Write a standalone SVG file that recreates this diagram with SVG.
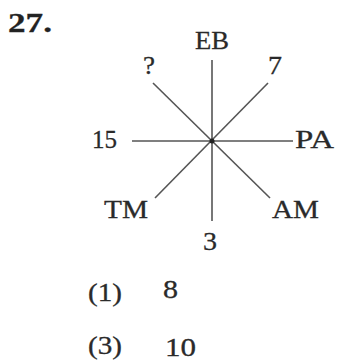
<svg xmlns="http://www.w3.org/2000/svg" width="341" height="364" viewBox="0 0 341 364">
<style>
.t{font-family:"Liberation Serif","Times New Roman",serif;font-size:26px;fill:#2a2a2a;stroke:#2a2a2a;stroke-width:0.3}
.b{font-weight:bold;font-size:28px;fill:#222}
.l{stroke:#555;stroke-width:1.6;fill:none}
</style>
<rect width="341" height="364" fill="#fff"/>
<g id="connectors">
<line class="l" x1="212" y1="60" x2="212" y2="221"/>
<line class="l" x1="132" y1="141" x2="293" y2="141"/>
<line class="l" x1="153" y1="83" x2="270" y2="198"/>
<line class="l" x1="268" y1="83" x2="155" y2="198"/>
<circle cx="212" cy="141" r="2.5" fill="#222"/>
</g>
<g id="title"><text class="t b" x="8" y="32" textLength="44" lengthAdjust="spacingAndGlyphs">27.</text></g>
<g id="EB"><text class="t" x="195" y="49" textLength="34" lengthAdjust="spacingAndGlyphs">EB</text></g>
<g id="q"><text class="t" x="143" y="74" textLength="12" lengthAdjust="spacingAndGlyphs">?</text></g>
<g id="n7"><text class="t" x="268" y="74" textLength="14" lengthAdjust="spacingAndGlyphs">7</text></g>
<g id="n15"><text class="t" x="92" y="148" textLength="25" lengthAdjust="spacingAndGlyphs">15</text></g>
<g id="PA"><text class="t" x="295" y="148" textLength="39" lengthAdjust="spacingAndGlyphs">PA</text></g>
<g id="TM"><text class="t" x="104" y="218" textLength="44" lengthAdjust="spacingAndGlyphs">TM</text></g>
<g id="AM"><text class="t" x="272" y="218" textLength="47" lengthAdjust="spacingAndGlyphs">AM</text></g>
<g id="n3"><text class="t" x="203" y="250" textLength="14" lengthAdjust="spacingAndGlyphs">3</text></g>
<g id="opt1"><text class="t" x="88" y="301" textLength="34" lengthAdjust="spacingAndGlyphs">(1)</text><text class="t" x="163" y="298" textLength="15" lengthAdjust="spacingAndGlyphs">8</text></g>
<g id="opt3"><text class="t" x="88" y="354" textLength="34" lengthAdjust="spacingAndGlyphs">(3)</text><text class="t" x="165" y="356" textLength="31" lengthAdjust="spacingAndGlyphs">10</text></g>
</svg>
